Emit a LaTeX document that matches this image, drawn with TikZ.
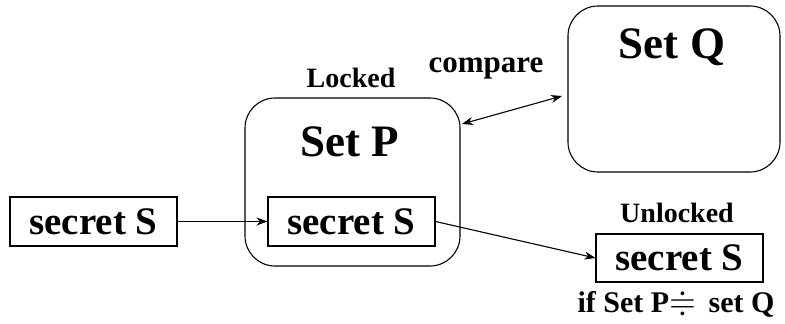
\documentclass[tikz,border=0pt]{standalone}
\usepackage{amssymb}
\usepackage{graphicx}
\usepackage{fontspec}
\setmainfont{Liberation Serif}
\usetikzlibrary{arrows.meta}
\tikzset{
  box/.style={draw, line width=1.1pt, inner sep=0pt},
  setbox/.style={draw, line width=1.1pt, rounded corners=30pt, inner sep=0pt},
  lbl/.style={font=\bfseries\fontsize{28}{30}\selectfont, inner sep=0pt},
  big/.style={font=\bfseries\fontsize{45}{48}\selectfont, inner sep=0pt},
  sec/.style={font=\bfseries\fontsize{39}{42}\selectfont, inner sep=0pt},
  conn/.style={line width=1.1pt, -{Stealth[length=11pt,width=8pt]}},
}
\begin{document}
\begin{tikzpicture}[x=1pt,y=-1pt]
\useasboundingbox (0,0) rectangle (785,324);
% outer sets
\node[setbox, minimum width=215pt, minimum height=168pt] (P) at (352.5,182) {};
\node[setbox, minimum width=212pt, minimum height=166pt] (Q) at (674,89) {};
\node[big] (Ptext) at (350,142) {Set P};
\node[big] (Qtext) at (672,47) {Set Q};
% secret boxes
\node[box, minimum width=167pt, minimum height=49pt] (S1) at (93.5,221.5) {};
\node[sec] at (S1) {secret S};
\node[box, minimum width=167pt, minimum height=49pt] (S2) at (351.5,221.5) {};
\node[sec] at (S2) {secret S};
\node[box, minimum width=167pt, minimum height=48pt] (S3) at (679.5,258) {};
\node[sec] at (S3) {secret S};
% labels
\node[lbl] (locked) at (351,78) {Locked};
\node[lbl, font=\bfseries\fontsize{31}{33}\selectfont] (cmp) at (486,68) {compare};
\node[lbl] (unlocked) at (677,213) {Unlocked};
\node[lbl, font=\bfseries\fontsize{30}{32}\selectfont] (cond) at (676,304)
  {if Set P\scalebox{1.15}{\boldmath$\doteqdot$}\, set Q};
% connectors
\coordinate (cA) at (462,124);
\coordinate (cB) at (562,96);
\draw[conn, {Stealth[length=11pt,width=8pt]}-{Stealth[length=11pt,width=8pt]}] (cA) -- (cB);
\draw[conn] (S1.east) -- (S2.west);
\draw[conn] (S2.east) -- (S3.west);
\end{tikzpicture}
\end{document}
